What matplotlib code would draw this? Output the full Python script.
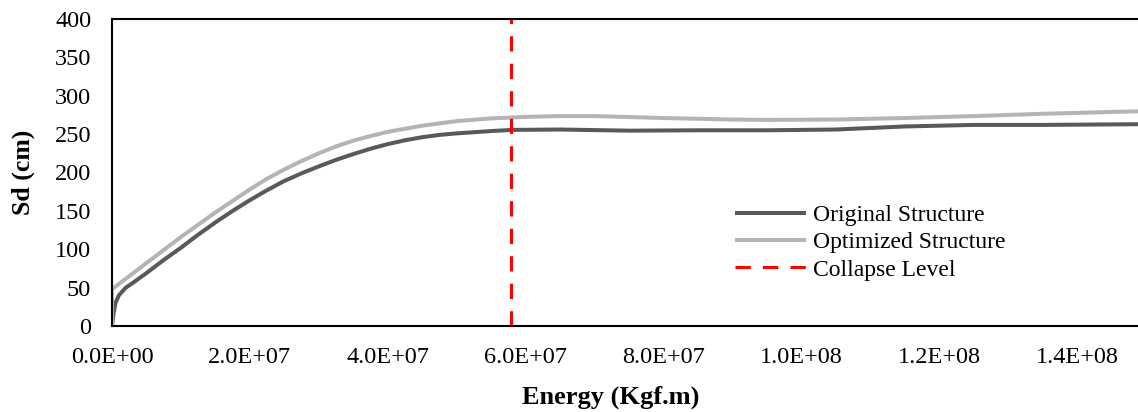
import matplotlib.pyplot as plt
from matplotlib.ticker import FuncFormatter

# energy in Kgf.m, Sd in cm
orig_energy = [0, 0.02e7, 0.05e7, 0.1e7, 0.2e7, 0.3e7, 0.5e7, 0.75e7, 1.0e7, 1.25e7, 1.5e7,
               1.75e7, 2.0e7, 2.25e7, 2.5e7, 2.75e7, 3.0e7, 3.25e7, 3.5e7, 3.75e7, 4.0e7,
               4.25e7, 4.5e7, 4.75e7, 5.0e7, 5.5e7, 5.8e7, 6.5e7, 7.5e7, 8.5e7, 9.5e7,
               10.5e7, 11.5e7, 12.5e7, 13.5e7, 15.0e7]
orig_sd = [0, 15, 30, 40, 50, 56, 69, 86, 102, 119, 135, 150, 164, 177, 189, 199, 208,
           216.5, 224, 231, 237, 242, 246, 249, 251, 254, 255.5, 256, 254.5, 255, 255,
           256, 260, 262, 262, 263]

opt_energy = [0, 0, 0.25e7, 0.5e7, 0.75e7, 1.0e7, 1.25e7, 1.5e7, 1.75e7, 2.0e7, 2.25e7,
              2.5e7, 2.75e7, 3.0e7, 3.25e7, 3.5e7, 3.75e7, 4.0e7, 4.5e7, 5.0e7, 5.5e7,
              6.0e7, 6.5e7, 7.0e7, 8.0e7, 9.0e7, 9.5e7, 10.5e7, 11.5e7, 12.5e7, 13.5e7,
              15.0e7]
opt_sd = [0, 48, 65, 82, 99, 116, 132, 148, 163, 178, 192, 204, 215, 225, 234, 241.5,
          247.5, 253, 261, 267, 270.5, 272.5, 273.5, 273.5, 271, 269, 268.5, 269, 271,
          273.5, 276.5, 280]

collapse_energy = 5.78e7

x_ticks = [0, 2e7, 4e7, 6e7, 8e7, 1e8, 1.2e8, 1.4e8]
y_ticks = [0, 50, 100, 150, 200, 250, 300, 350, 400]

plt.rcParams['font.family'] = ['Liberation Serif', 'DejaVu Serif']

fig = plt.figure(figsize=(11.38, 4.12), dpi=100)
ax = fig.add_axes([112 / 1138, 86 / 412, 1026 / 1138, 307 / 412])

ax.plot(orig_energy, orig_sd, color='#595959', lw=2.9, label='Original Structure',
        solid_capstyle='butt')
ax.plot(opt_energy, opt_sd, color='#b4b4b4', lw=2.9, label='Optimized Structure',
        solid_capstyle='butt')
ax.axvline(collapse_energy, color='#ff0000', lw=2.2, dashes=(5, 4), label='Collapse Level')

# the right end of the plot is cut off slightly in the original
ax.set_xlim(0, 1.488e8)
ax.set_ylim(0, 400)
ax.set_xticks(x_ticks)
ax.set_yticks(y_ticks)
ax.xaxis.set_major_formatter(FuncFormatter(lambda v, p: '%.1E' % v))
ax.tick_params(axis='both', length=0, labelsize=17.5)
ax.tick_params(axis='y', pad=15)
ax.tick_params(axis='x', pad=15)

ax.spines['right'].set_visible(False)
for s in ['left', 'top', 'bottom']:
    ax.spines[s].set_linewidth(1.5)

ax.set_xlabel('Energy (Kgf.m)', fontsize=19, fontweight='bold')
ax.set_ylabel('Sd (cm)', fontsize=18.5, fontweight='bold', labelpad=14)
ax.xaxis.set_label_coords(0.486, -0.195)

ax.legend(loc='upper left', bbox_to_anchor=(0.607, 0.395), frameon=False, fontsize=17,
          handlelength=3.0, handletextpad=0.3, labelspacing=0.24, borderpad=0,
          borderaxespad=0)

plt.savefig('out.png', dpi=100)
